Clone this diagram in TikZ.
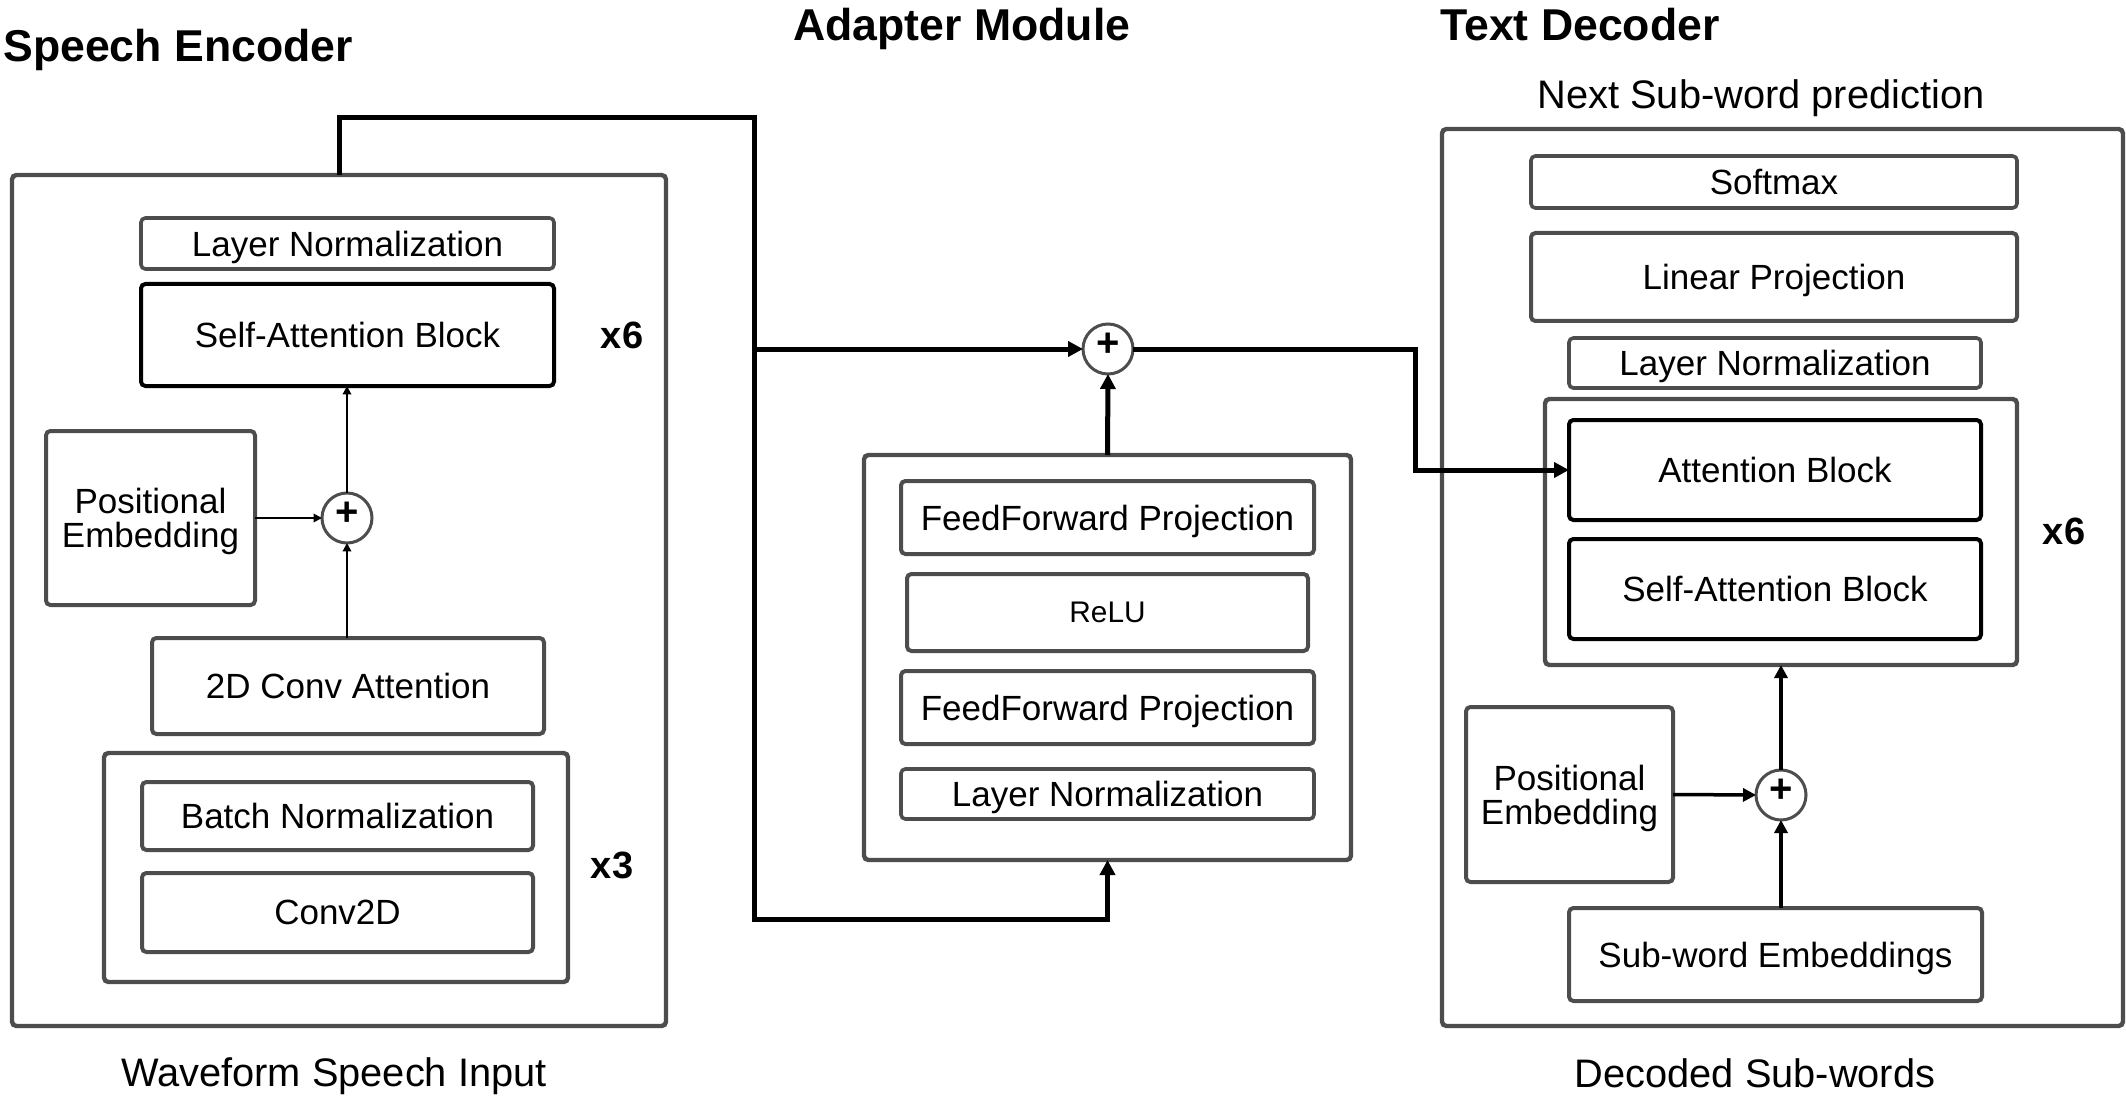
\documentclass[tikz,border=0pt]{standalone}
\usepackage{fontspec}
\setmainfont{Liberation Sans}
\usetikzlibrary{arrows.meta}
\definecolor{bord}{HTML}{4D4D4D}
\begin{document}
\begin{tikzpicture}[x=0.5pt,y=-0.5pt,
  boxouter/.style={draw=bord, line width=2.2pt, rounded corners=2.2pt, inner sep=0pt, outer sep=0pt},
  boxinner/.style={draw=bord, line width=2pt, rounded corners=2.2pt, inner sep=0pt, outer sep=0pt, font=\fontsize{17.5pt}{17pt}\selectfont, align=center, text depth=-0.08em},
  boxthin/.style={boxinner, line width=1.8pt},
  boxtwo/.style={boxinner, text depth=0pt},
  boxblack/.style={draw=black, line width=2pt, rounded corners=2.2pt, inner sep=0pt, outer sep=0pt, font=\fontsize{17.5pt}{17pt}\selectfont, text depth=-0.08em},
  sumnode/.style={circle, draw=bord, line width=1.5pt, fill=white, minimum size=25pt, inner sep=0pt, outer sep=0pt, font=\bfseries\fontsize{20pt}{20pt}\selectfont, text height=0.708em, text depth=0pt},
  ttl/.style={font=\bfseries\fontsize{22.3pt}{22.3pt}\selectfont, anchor=base west, inner sep=0pt},
  capt/.style={font=\fontsize{19.9pt}{20pt}\selectfont, anchor=base, inner sep=0pt},
  repl/.style={font=\bfseries\fontsize{19pt}{19pt}\selectfont, inner sep=0pt},
  conn/.style={draw=black, line width=2.5pt, -{Triangle[length=7.5pt,width=7.5pt]}},
  thinarr/.style={draw=black, line width=1pt, -{Triangle[length=4.2pt,width=4.2pt]}},
  medarr/.style={draw=black, line width=1.75pt, -{Triangle[length=6.5pt,width=6.5pt]}}
]
\useasboundingbox (0,0) rectangle (2126,1118);

% titles
\node[ttl] (tEnc) at (3,61.5) {Speech Encoder};
\node[ttl] (tAd) at (793,40.5) {Adapter Module};
\node[ttl] (tDec) at (1440,40.5) {Text Decoder};

% ---------- Speech encoder ----------
\node[boxouter, minimum width=327pt, minimum height=425.5pt] (enc) at (339,600.5) {};
\node[boxthin, minimum width=206.5pt, minimum height=25.5pt] (encLN) at (347.5,243.5) {Layer Normalization};
\node[boxblack, minimum width=206.5pt, minimum height=51pt] (encSA) at (347.5,335) {Self-Attention Block};
\node[repl] (encxsix) at (622,335) {x6};
\node[boxtwo, minimum width=104.5pt, minimum height=87pt] (encPE) at (150.5,518) {Positional\\Embedding};
\node[sumnode] (encSum) at (347,518) {+};
\node[boxinner, minimum width=196pt, minimum height=48pt] (encConv) at (348,686) {2D Conv Attention};
\node[boxouter, minimum width=232pt, minimum height=114.5pt] (encRep) at (336,867.5) {};
\node[boxinner, minimum width=195.5pt, minimum height=34pt] (encBN) at (337.5,816) {Batch Normalization};
\node[boxinner, minimum width=195.5pt, minimum height=39.5pt] (encCtwo) at (337.5,912.5) {Conv2D};
\node[repl] (encxthree) at (612,865) {x3};
\node[capt] (capEnc) at (334,1086) {Waveform Speech Input};

% ---------- Adapter ----------
\node[boxouter, minimum width=243.5pt, minimum height=202.5pt] (ad) at (1107.5,657.5) {};
\node[boxinner, minimum width=206.5pt, minimum height=36.5pt] (adFFa) at (1107.5,517.5) {FeedForward Projection};
\node[boxinner, minimum width=200.5pt, minimum height=38.5pt, font=\fontsize{14.9pt}{15pt}\selectfont] (adRelu) at (1107.5,612.5) {ReLU};
\node[boxinner, minimum width=206.5pt, minimum height=36.5pt] (adFFb) at (1107.5,707.5) {FeedForward Projection};
\node[boxthin, minimum width=206.5pt, minimum height=25pt] (adLN) at (1107.5,794) {Layer Normalization};
\node[sumnode] (adSum) at (1108,349) {+};

% ---------- Text decoder ----------
\node[boxouter, minimum width=340.5pt, minimum height=448.5pt] (dec) at (1782.5,577.5) {};
\node[capt] (capNext) at (1761,108.5) {Next Sub-word prediction};
\node[boxthin, minimum width=243pt, minimum height=26pt] (decSm) at (1774,182) {Softmax};
\node[boxinner, minimum width=243pt, minimum height=44pt] (decLin) at (1774,277) {Linear Projection};
\node[boxthin, minimum width=206pt, minimum height=25pt] (decLN) at (1775,363) {Layer Normalization};
\node[boxouter, minimum width=236pt, minimum height=133pt] (decRep) at (1781,532) {};
\node[boxblack, minimum width=206pt, minimum height=50pt] (decAtt) at (1775,470) {Attention Block};
\node[boxblack, minimum width=206pt, minimum height=50pt] (decSA) at (1775,589) {Self-Attention Block};
\node[repl] (decxsix) at (2064,531) {x6};
\node[boxtwo, minimum width=103.5pt, minimum height=87.5pt] (decPE) at (1569.5,794.5) {Positional\\Embedding};
\node[sumnode] (decSum) at (1781,795) {+};
\node[boxinner, minimum width=206.5pt, minimum height=46.5pt] (decSub) at (1775.5,954.5) {Sub-word Embeddings};
\node[capt] (capDec) at (1755,1087) {Decoded Sub-words};

% ---------- connectors ----------
\coordinate (pa) at (339,118);
\coordinate (pb) at (754,118);
\coordinate (pc) at (754,919);
\coordinate (pd) at (1107.5,919);
\coordinate (pbr) at (754,349);
\coordinate (qa) at (1415,349);
\coordinate (qb) at (1415,470);

\draw[conn] (enc.north) -- (pa) -- (pb) -- (pc) -- (pd) -- (ad.south);
\draw[conn] (pbr) -- (adSum.west);
\draw[conn] (ad.north) -- (adSum.south);
\draw[conn] (adSum.east) -- (qa) -- (qb) -- (decAtt.west);

\draw[thinarr] (encPE.east) -- (encSum.west);
\draw[thinarr] (encConv.north -| encSum) -- (encSum.south);
\draw[thinarr] (encSum.north) -- (encSA.south -| encSum);

\draw[medarr] (decPE.east) -- (decSum.west);
\draw[medarr] (decSub.north -| decSum) -- (decSum.south);
\draw[medarr] (decSum.north) -- (decRep.south -| decSum);
\end{tikzpicture}
\end{document}
